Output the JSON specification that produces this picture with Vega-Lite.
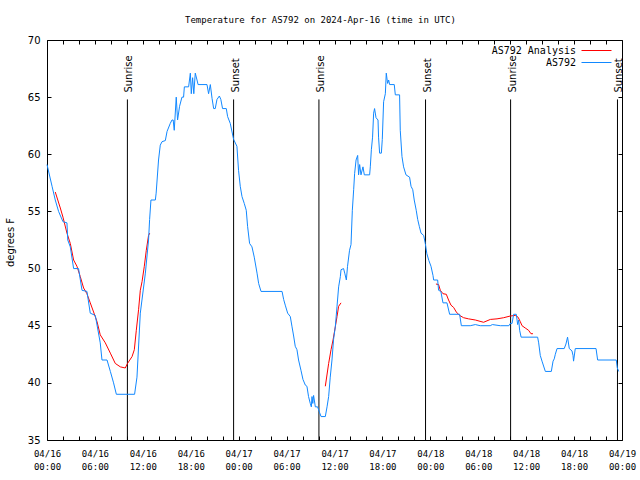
{
  "$schema": "https://vega.github.io/schema/vega-lite/v6.json",
  "width": 575,
  "height": 400,
  "autosize": "none",
  "padding": {"left": 47, "top": 40, "right": 18, "bottom": 40},
  "background": "white",
  "title": {"text": "Temperature for AS792 on 2024-Apr-16 (time in UTC)", "font": "DejaVu Sans Mono", "fontSize": 9, "fontWeight": "normal", "color": "black", "anchor": "middle", "offset": 10, "dx": -14},
  "config": {
    "view": {"stroke": "black", "strokeWidth": 1},
    "axis": {"domain": false, "grid": false, "tickColor": "black", "labelColor": "black", "tickSize": -4, "tickWidth": 1}
  },
  "datasets": {
    "sun": [
      {"time": "2024-04-16T10:04:00Z", "event": "Sunrise"},
      {"time": "2024-04-16T23:22:00Z", "event": "Sunset"},
      {"time": "2024-04-17T10:03:00Z", "event": "Sunrise"},
      {"time": "2024-04-17T23:24:00Z", "event": "Sunset"},
      {"time": "2024-04-18T10:03:00Z", "event": "Sunrise"},
      {"time": "2024-04-18T23:26:00Z", "event": "Sunset"}
    ],
    "obs": [
      {"time": "2024-04-16T01:02:00Z", "temp": 56.7, "series": "AS792 Analysis", "segment": 1},
      {"time": "2024-04-16T01:40:00Z", "temp": 55.3, "series": "AS792 Analysis", "segment": 1},
      {"time": "2024-04-16T02:00:00Z", "temp": 54.5, "series": "AS792 Analysis", "segment": 1},
      {"time": "2024-04-16T02:30:00Z", "temp": 53.1, "series": "AS792 Analysis", "segment": 1},
      {"time": "2024-04-16T02:55:00Z", "temp": 52.2, "series": "AS792 Analysis", "segment": 1},
      {"time": "2024-04-16T03:20:00Z", "temp": 50.75, "series": "AS792 Analysis", "segment": 1},
      {"time": "2024-04-16T03:45:00Z", "temp": 50.2, "series": "AS792 Analysis", "segment": 1},
      {"time": "2024-04-16T04:10:00Z", "temp": 49.3, "series": "AS792 Analysis", "segment": 1},
      {"time": "2024-04-16T04:35:00Z", "temp": 48.3, "series": "AS792 Analysis", "segment": 1},
      {"time": "2024-04-16T05:00:00Z", "temp": 47.8, "series": "AS792 Analysis", "segment": 1},
      {"time": "2024-04-16T05:25:00Z", "temp": 47.0, "series": "AS792 Analysis", "segment": 1},
      {"time": "2024-04-16T05:50:00Z", "temp": 46.2, "series": "AS792 Analysis", "segment": 1},
      {"time": "2024-04-16T06:16:00Z", "temp": 45.35, "series": "AS792 Analysis", "segment": 1},
      {"time": "2024-04-16T06:40:00Z", "temp": 44.2, "series": "AS792 Analysis", "segment": 1},
      {"time": "2024-04-16T07:18:00Z", "temp": 43.5, "series": "AS792 Analysis", "segment": 1},
      {"time": "2024-04-16T07:56:00Z", "temp": 42.6, "series": "AS792 Analysis", "segment": 1},
      {"time": "2024-04-16T08:33:00Z", "temp": 41.7, "series": "AS792 Analysis", "segment": 1},
      {"time": "2024-04-16T09:11:00Z", "temp": 41.4, "series": "AS792 Analysis", "segment": 1},
      {"time": "2024-04-16T09:48:00Z", "temp": 41.3, "series": "AS792 Analysis", "segment": 1},
      {"time": "2024-04-16T10:05:00Z", "temp": 41.7, "series": "AS792 Analysis", "segment": 1},
      {"time": "2024-04-16T10:39:00Z", "temp": 42.3, "series": "AS792 Analysis", "segment": 1},
      {"time": "2024-04-16T10:56:00Z", "temp": 42.9, "series": "AS792 Analysis", "segment": 1},
      {"time": "2024-04-16T11:11:00Z", "temp": 44.6, "series": "AS792 Analysis", "segment": 1},
      {"time": "2024-04-16T11:28:00Z", "temp": 46.4, "series": "AS792 Analysis", "segment": 1},
      {"time": "2024-04-16T11:41:00Z", "temp": 48.1, "series": "AS792 Analysis", "segment": 1},
      {"time": "2024-04-16T11:54:00Z", "temp": 48.85, "series": "AS792 Analysis", "segment": 1},
      {"time": "2024-04-16T12:11:00Z", "temp": 50.2, "series": "AS792 Analysis", "segment": 1},
      {"time": "2024-04-16T12:26:00Z", "temp": 51.6, "series": "AS792 Analysis", "segment": 1},
      {"time": "2024-04-16T12:43:00Z", "temp": 52.9, "series": "AS792 Analysis", "segment": 1},
      {"time": "2024-04-16T12:52:00Z", "temp": 53.1, "series": "AS792 Analysis", "segment": 1},
      {"time": "2024-04-17T10:51:00Z", "temp": 39.7, "series": "AS792 Analysis", "segment": 2},
      {"time": "2024-04-17T11:16:00Z", "temp": 41.7, "series": "AS792 Analysis", "segment": 2},
      {"time": "2024-04-17T11:34:00Z", "temp": 42.9, "series": "AS792 Analysis", "segment": 2},
      {"time": "2024-04-17T11:49:00Z", "temp": 43.75, "series": "AS792 Analysis", "segment": 2},
      {"time": "2024-04-17T12:06:00Z", "temp": 44.9, "series": "AS792 Analysis", "segment": 2},
      {"time": "2024-04-17T12:19:00Z", "temp": 45.8, "series": "AS792 Analysis", "segment": 2},
      {"time": "2024-04-17T12:31:00Z", "temp": 46.7, "series": "AS792 Analysis", "segment": 2},
      {"time": "2024-04-17T12:49:00Z", "temp": 47.0, "series": "AS792 Analysis", "segment": 2},
      {"time": "2024-04-18T00:42:00Z", "temp": 48.65, "series": "AS792 Analysis", "segment": 3},
      {"time": "2024-04-18T01:02:00Z", "temp": 48.6, "series": "AS792 Analysis", "segment": 3},
      {"time": "2024-04-18T01:15:00Z", "temp": 48.1, "series": "AS792 Analysis", "segment": 3},
      {"time": "2024-04-18T01:35:00Z", "temp": 47.8, "series": "AS792 Analysis", "segment": 3},
      {"time": "2024-04-18T02:00:00Z", "temp": 47.75, "series": "AS792 Analysis", "segment": 3},
      {"time": "2024-04-18T02:17:00Z", "temp": 47.25, "series": "AS792 Analysis", "segment": 3},
      {"time": "2024-04-18T02:35:00Z", "temp": 46.8, "series": "AS792 Analysis", "segment": 3},
      {"time": "2024-04-18T02:55:00Z", "temp": 46.6, "series": "AS792 Analysis", "segment": 3},
      {"time": "2024-04-18T03:15:00Z", "temp": 46.2, "series": "AS792 Analysis", "segment": 3},
      {"time": "2024-04-18T03:40:00Z", "temp": 45.9, "series": "AS792 Analysis", "segment": 3},
      {"time": "2024-04-18T04:10:00Z", "temp": 45.7, "series": "AS792 Analysis", "segment": 3},
      {"time": "2024-04-18T04:47:00Z", "temp": 45.6, "series": "AS792 Analysis", "segment": 3},
      {"time": "2024-04-18T05:38:00Z", "temp": 45.5, "series": "AS792 Analysis", "segment": 3},
      {"time": "2024-04-18T06:40:00Z", "temp": 45.3, "series": "AS792 Analysis", "segment": 3},
      {"time": "2024-04-18T07:31:00Z", "temp": 45.55, "series": "AS792 Analysis", "segment": 3},
      {"time": "2024-04-18T08:21:00Z", "temp": 45.6, "series": "AS792 Analysis", "segment": 3},
      {"time": "2024-04-18T09:11:00Z", "temp": 45.7, "series": "AS792 Analysis", "segment": 3},
      {"time": "2024-04-18T10:01:00Z", "temp": 45.85, "series": "AS792 Analysis", "segment": 3},
      {"time": "2024-04-18T10:38:00Z", "temp": 45.9, "series": "AS792 Analysis", "segment": 3},
      {"time": "2024-04-18T10:59:00Z", "temp": 45.75, "series": "AS792 Analysis", "segment": 3},
      {"time": "2024-04-18T11:16:00Z", "temp": 45.35, "series": "AS792 Analysis", "segment": 3},
      {"time": "2024-04-18T11:29:00Z", "temp": 45.0, "series": "AS792 Analysis", "segment": 3},
      {"time": "2024-04-18T11:53:00Z", "temp": 44.8, "series": "AS792 Analysis", "segment": 3},
      {"time": "2024-04-18T12:18:00Z", "temp": 44.6, "series": "AS792 Analysis", "segment": 3},
      {"time": "2024-04-18T12:36:00Z", "temp": 44.3, "series": "AS792 Analysis", "segment": 3},
      {"time": "2024-04-18T12:51:00Z", "temp": 44.3, "series": "AS792 Analysis", "segment": 3},
      {"time": "2024-04-16T00:00:00Z", "temp": 59.1, "series": "AS792", "segment": 0},
      {"time": "2024-04-16T00:38:00Z", "temp": 57.2, "series": "AS792", "segment": 0},
      {"time": "2024-04-16T01:02:00Z", "temp": 56.0, "series": "AS792", "segment": 0},
      {"time": "2024-04-16T01:27:00Z", "temp": 55.0, "series": "AS792", "segment": 0},
      {"time": "2024-04-16T02:00:00Z", "temp": 54.1, "series": "AS792", "segment": 0},
      {"time": "2024-04-16T02:30:00Z", "temp": 54.0, "series": "AS792", "segment": 0},
      {"time": "2024-04-16T02:36:00Z", "temp": 52.5, "series": "AS792", "segment": 0},
      {"time": "2024-04-16T02:55:00Z", "temp": 51.9, "series": "AS792", "segment": 0},
      {"time": "2024-04-16T03:20:00Z", "temp": 50.0, "series": "AS792", "segment": 0},
      {"time": "2024-04-16T03:57:00Z", "temp": 50.0, "series": "AS792", "segment": 0},
      {"time": "2024-04-16T04:23:00Z", "temp": 48.1, "series": "AS792", "segment": 0},
      {"time": "2024-04-16T05:00:00Z", "temp": 48.0, "series": "AS792", "segment": 0},
      {"time": "2024-04-16T05:25:00Z", "temp": 46.1, "series": "AS792", "segment": 0},
      {"time": "2024-04-16T06:03:00Z", "temp": 45.9, "series": "AS792", "segment": 0},
      {"time": "2024-04-16T06:40:00Z", "temp": 43.5, "series": "AS792", "segment": 0},
      {"time": "2024-04-16T06:53:00Z", "temp": 42.0, "series": "AS792", "segment": 0},
      {"time": "2024-04-16T07:31:00Z", "temp": 42.0, "series": "AS792", "segment": 0},
      {"time": "2024-04-16T07:56:00Z", "temp": 41.0, "series": "AS792", "segment": 0},
      {"time": "2024-04-16T08:20:00Z", "temp": 40.0, "series": "AS792", "segment": 0},
      {"time": "2024-04-16T08:41:00Z", "temp": 39.0, "series": "AS792", "segment": 0},
      {"time": "2024-04-16T10:58:00Z", "temp": 39.0, "series": "AS792", "segment": 0},
      {"time": "2024-04-16T11:16:00Z", "temp": 40.5, "series": "AS792", "segment": 0},
      {"time": "2024-04-16T11:41:00Z", "temp": 46.1, "series": "AS792", "segment": 0},
      {"time": "2024-04-16T12:19:00Z", "temp": 49.6, "series": "AS792", "segment": 0},
      {"time": "2024-04-16T12:43:00Z", "temp": 52.5, "series": "AS792", "segment": 0},
      {"time": "2024-04-16T12:51:00Z", "temp": 54.3, "series": "AS792", "segment": 0},
      {"time": "2024-04-16T13:01:00Z", "temp": 56.0, "series": "AS792", "segment": 0},
      {"time": "2024-04-16T13:34:00Z", "temp": 56.0, "series": "AS792", "segment": 0},
      {"time": "2024-04-16T13:40:00Z", "temp": 56.6, "series": "AS792", "segment": 0},
      {"time": "2024-04-16T13:58:00Z", "temp": 59.5, "series": "AS792", "segment": 0},
      {"time": "2024-04-16T14:11:00Z", "temp": 60.8, "series": "AS792", "segment": 0},
      {"time": "2024-04-16T14:24:00Z", "temp": 61.1, "series": "AS792", "segment": 0},
      {"time": "2024-04-16T14:49:00Z", "temp": 61.2, "series": "AS792", "segment": 0},
      {"time": "2024-04-16T15:02:00Z", "temp": 62.0, "series": "AS792", "segment": 0},
      {"time": "2024-04-16T15:26:00Z", "temp": 62.7, "series": "AS792", "segment": 0},
      {"time": "2024-04-16T15:39:00Z", "temp": 63.0, "series": "AS792", "segment": 0},
      {"time": "2024-04-16T15:48:00Z", "temp": 63.0, "series": "AS792", "segment": 0},
      {"time": "2024-04-16T15:56:00Z", "temp": 62.1, "series": "AS792", "segment": 0},
      {"time": "2024-04-16T16:11:00Z", "temp": 65.0, "series": "AS792", "segment": 0},
      {"time": "2024-04-16T16:21:00Z", "temp": 63.0, "series": "AS792", "segment": 0},
      {"time": "2024-04-16T16:36:00Z", "temp": 64.2, "series": "AS792", "segment": 0},
      {"time": "2024-04-16T16:54:00Z", "temp": 65.0, "series": "AS792", "segment": 0},
      {"time": "2024-04-16T17:06:00Z", "temp": 65.0, "series": "AS792", "segment": 0},
      {"time": "2024-04-16T17:12:00Z", "temp": 65.9, "series": "AS792", "segment": 0},
      {"time": "2024-04-16T17:44:00Z", "temp": 65.9, "series": "AS792", "segment": 0},
      {"time": "2024-04-16T17:57:00Z", "temp": 67.1, "series": "AS792", "segment": 0},
      {"time": "2024-04-16T18:04:00Z", "temp": 65.3, "series": "AS792", "segment": 0},
      {"time": "2024-04-16T18:14:00Z", "temp": 66.7, "series": "AS792", "segment": 0},
      {"time": "2024-04-16T18:23:00Z", "temp": 65.3, "series": "AS792", "segment": 0},
      {"time": "2024-04-16T18:34:00Z", "temp": 67.1, "series": "AS792", "segment": 0},
      {"time": "2024-04-16T18:47:00Z", "temp": 66.5, "series": "AS792", "segment": 0},
      {"time": "2024-04-16T18:55:00Z", "temp": 66.1, "series": "AS792", "segment": 0},
      {"time": "2024-04-16T20:02:00Z", "temp": 66.1, "series": "AS792", "segment": 0},
      {"time": "2024-04-16T20:14:00Z", "temp": 65.3, "series": "AS792", "segment": 0},
      {"time": "2024-04-16T20:27:00Z", "temp": 66.1, "series": "AS792", "segment": 0},
      {"time": "2024-04-16T20:40:00Z", "temp": 64.9, "series": "AS792", "segment": 0},
      {"time": "2024-04-16T20:52:00Z", "temp": 64.0, "series": "AS792", "segment": 0},
      {"time": "2024-04-16T21:04:00Z", "temp": 64.0, "series": "AS792", "segment": 0},
      {"time": "2024-04-16T21:17:00Z", "temp": 64.8, "series": "AS792", "segment": 0},
      {"time": "2024-04-16T21:35:00Z", "temp": 65.1, "series": "AS792", "segment": 0},
      {"time": "2024-04-16T21:46:00Z", "temp": 64.8, "series": "AS792", "segment": 0},
      {"time": "2024-04-16T21:59:00Z", "temp": 64.0, "series": "AS792", "segment": 0},
      {"time": "2024-04-16T22:27:00Z", "temp": 64.0, "series": "AS792", "segment": 0},
      {"time": "2024-04-16T22:37:00Z", "temp": 63.3, "series": "AS792", "segment": 0},
      {"time": "2024-04-16T22:57:00Z", "temp": 62.7, "series": "AS792", "segment": 0},
      {"time": "2024-04-16T23:22:00Z", "temp": 61.3, "series": "AS792", "segment": 0},
      {"time": "2024-04-16T23:47:00Z", "temp": 60.7, "series": "AS792", "segment": 0},
      {"time": "2024-04-16T23:59:00Z", "temp": 58.6, "series": "AS792", "segment": 0},
      {"time": "2024-04-17T00:12:00Z", "temp": 57.2, "series": "AS792", "segment": 0},
      {"time": "2024-04-17T00:25:00Z", "temp": 56.3, "series": "AS792", "segment": 0},
      {"time": "2024-04-17T00:42:00Z", "temp": 55.7, "series": "AS792", "segment": 0},
      {"time": "2024-04-17T00:57:00Z", "temp": 55.1, "series": "AS792", "segment": 0},
      {"time": "2024-04-17T01:07:00Z", "temp": 53.7, "series": "AS792", "segment": 0},
      {"time": "2024-04-17T01:22:00Z", "temp": 52.2, "series": "AS792", "segment": 0},
      {"time": "2024-04-17T01:40:00Z", "temp": 51.9, "series": "AS792", "segment": 0},
      {"time": "2024-04-17T01:57:00Z", "temp": 51.0, "series": "AS792", "segment": 0},
      {"time": "2024-04-17T02:18:00Z", "temp": 49.6, "series": "AS792", "segment": 0},
      {"time": "2024-04-17T02:30:00Z", "temp": 48.7, "series": "AS792", "segment": 0},
      {"time": "2024-04-17T02:48:00Z", "temp": 48.0, "series": "AS792", "segment": 0},
      {"time": "2024-04-17T05:26:00Z", "temp": 48.0, "series": "AS792", "segment": 0},
      {"time": "2024-04-17T05:38:00Z", "temp": 47.3, "series": "AS792", "segment": 0},
      {"time": "2024-04-17T05:50:00Z", "temp": 46.8, "series": "AS792", "segment": 0},
      {"time": "2024-04-17T06:08:00Z", "temp": 46.1, "series": "AS792", "segment": 0},
      {"time": "2024-04-17T06:28:00Z", "temp": 45.8, "series": "AS792", "segment": 0},
      {"time": "2024-04-17T06:41:00Z", "temp": 44.9, "series": "AS792", "segment": 0},
      {"time": "2024-04-17T06:53:00Z", "temp": 44.1, "series": "AS792", "segment": 0},
      {"time": "2024-04-17T07:05:00Z", "temp": 43.2, "series": "AS792", "segment": 0},
      {"time": "2024-04-17T07:18:00Z", "temp": 42.9, "series": "AS792", "segment": 0},
      {"time": "2024-04-17T07:30:00Z", "temp": 42.0, "series": "AS792", "segment": 0},
      {"time": "2024-04-17T07:48:00Z", "temp": 41.1, "series": "AS792", "segment": 0},
      {"time": "2024-04-17T08:03:00Z", "temp": 40.3, "series": "AS792", "segment": 0},
      {"time": "2024-04-17T08:21:00Z", "temp": 39.8, "series": "AS792", "segment": 0},
      {"time": "2024-04-17T08:33:00Z", "temp": 39.7, "series": "AS792", "segment": 0},
      {"time": "2024-04-17T08:45:00Z", "temp": 38.8, "series": "AS792", "segment": 0},
      {"time": "2024-04-17T08:58:00Z", "temp": 38.2, "series": "AS792", "segment": 0},
      {"time": "2024-04-17T09:06:00Z", "temp": 37.9, "series": "AS792", "segment": 0},
      {"time": "2024-04-17T09:11:00Z", "temp": 38.8, "series": "AS792", "segment": 0},
      {"time": "2024-04-17T09:17:00Z", "temp": 38.2, "series": "AS792", "segment": 0},
      {"time": "2024-04-17T09:23:00Z", "temp": 38.9, "series": "AS792", "segment": 0},
      {"time": "2024-04-17T09:36:00Z", "temp": 37.9, "series": "AS792", "segment": 0},
      {"time": "2024-04-17T09:53:00Z", "temp": 37.9, "series": "AS792", "segment": 0},
      {"time": "2024-04-17T10:08:00Z", "temp": 37.4, "series": "AS792", "segment": 0},
      {"time": "2024-04-17T10:19:00Z", "temp": 37.05, "series": "AS792", "segment": 0},
      {"time": "2024-04-17T10:51:00Z", "temp": 37.05, "series": "AS792", "segment": 0},
      {"time": "2024-04-17T11:04:00Z", "temp": 37.9, "series": "AS792", "segment": 0},
      {"time": "2024-04-17T11:16:00Z", "temp": 38.8, "series": "AS792", "segment": 0},
      {"time": "2024-04-17T11:28:00Z", "temp": 40.5, "series": "AS792", "segment": 0},
      {"time": "2024-04-17T11:41:00Z", "temp": 42.0, "series": "AS792", "segment": 0},
      {"time": "2024-04-17T11:53:00Z", "temp": 43.8, "series": "AS792", "segment": 0},
      {"time": "2024-04-17T12:06:00Z", "temp": 44.9, "series": "AS792", "segment": 0},
      {"time": "2024-04-17T12:19:00Z", "temp": 46.7, "series": "AS792", "segment": 0},
      {"time": "2024-04-17T12:31:00Z", "temp": 48.4, "series": "AS792", "segment": 0},
      {"time": "2024-04-17T12:44:00Z", "temp": 49.3, "series": "AS792", "segment": 0},
      {"time": "2024-04-17T12:49:00Z", "temp": 49.9, "series": "AS792", "segment": 0},
      {"time": "2024-04-17T13:08:00Z", "temp": 50.0, "series": "AS792", "segment": 0},
      {"time": "2024-04-17T13:17:00Z", "temp": 49.6, "series": "AS792", "segment": 0},
      {"time": "2024-04-17T13:29:00Z", "temp": 49.0, "series": "AS792", "segment": 0},
      {"time": "2024-04-17T13:38:00Z", "temp": 50.2, "series": "AS792", "segment": 0},
      {"time": "2024-04-17T13:53:00Z", "temp": 51.6, "series": "AS792", "segment": 0},
      {"time": "2024-04-17T14:04:00Z", "temp": 52.1, "series": "AS792", "segment": 0},
      {"time": "2024-04-17T14:14:00Z", "temp": 55.1, "series": "AS792", "segment": 0},
      {"time": "2024-04-17T14:24:00Z", "temp": 56.9, "series": "AS792", "segment": 0},
      {"time": "2024-04-17T14:31:00Z", "temp": 58.3, "series": "AS792", "segment": 0},
      {"time": "2024-04-17T14:42:00Z", "temp": 59.5, "series": "AS792", "segment": 0},
      {"time": "2024-04-17T14:54:00Z", "temp": 59.9, "series": "AS792", "segment": 0},
      {"time": "2024-04-17T15:01:00Z", "temp": 58.2, "series": "AS792", "segment": 0},
      {"time": "2024-04-17T15:09:00Z", "temp": 59.1, "series": "AS792", "segment": 0},
      {"time": "2024-04-17T15:19:00Z", "temp": 58.2, "series": "AS792", "segment": 0},
      {"time": "2024-04-17T15:34:00Z", "temp": 58.9, "series": "AS792", "segment": 0},
      {"time": "2024-04-17T15:44:00Z", "temp": 58.2, "series": "AS792", "segment": 0},
      {"time": "2024-04-17T16:24:00Z", "temp": 58.2, "series": "AS792", "segment": 0},
      {"time": "2024-04-17T16:29:00Z", "temp": 58.9, "series": "AS792", "segment": 0},
      {"time": "2024-04-17T16:37:00Z", "temp": 60.4, "series": "AS792", "segment": 0},
      {"time": "2024-04-17T16:46:00Z", "temp": 61.5, "series": "AS792", "segment": 0},
      {"time": "2024-04-17T16:54:00Z", "temp": 63.6, "series": "AS792", "segment": 0},
      {"time": "2024-04-17T17:01:00Z", "temp": 64.0, "series": "AS792", "segment": 0},
      {"time": "2024-04-17T17:12:00Z", "temp": 63.2, "series": "AS792", "segment": 0},
      {"time": "2024-04-17T17:27:00Z", "temp": 63.0, "series": "AS792", "segment": 0},
      {"time": "2024-04-17T17:31:00Z", "temp": 61.5, "series": "AS792", "segment": 0},
      {"time": "2024-04-17T17:39:00Z", "temp": 60.1, "series": "AS792", "segment": 0},
      {"time": "2024-04-17T17:52:00Z", "temp": 60.1, "series": "AS792", "segment": 0},
      {"time": "2024-04-17T17:59:00Z", "temp": 61.3, "series": "AS792", "segment": 0},
      {"time": "2024-04-17T18:09:00Z", "temp": 64.6, "series": "AS792", "segment": 0},
      {"time": "2024-04-17T18:22:00Z", "temp": 65.3, "series": "AS792", "segment": 0},
      {"time": "2024-04-17T18:29:00Z", "temp": 67.1, "series": "AS792", "segment": 0},
      {"time": "2024-04-17T18:39:00Z", "temp": 66.2, "series": "AS792", "segment": 0},
      {"time": "2024-04-17T18:47:00Z", "temp": 66.5, "series": "AS792", "segment": 0},
      {"time": "2024-04-17T18:54:00Z", "temp": 66.1, "series": "AS792", "segment": 0},
      {"time": "2024-04-17T19:29:00Z", "temp": 66.1, "series": "AS792", "segment": 0},
      {"time": "2024-04-17T19:37:00Z", "temp": 65.2, "series": "AS792", "segment": 0},
      {"time": "2024-04-17T20:09:00Z", "temp": 65.2, "series": "AS792", "segment": 0},
      {"time": "2024-04-17T20:14:00Z", "temp": 62.1, "series": "AS792", "segment": 0},
      {"time": "2024-04-17T20:27:00Z", "temp": 59.8, "series": "AS792", "segment": 0},
      {"time": "2024-04-17T20:39:00Z", "temp": 58.9, "series": "AS792", "segment": 0},
      {"time": "2024-04-17T20:57:00Z", "temp": 58.2, "series": "AS792", "segment": 0},
      {"time": "2024-04-17T21:24:00Z", "temp": 58.0, "series": "AS792", "segment": 0},
      {"time": "2024-04-17T21:35:00Z", "temp": 57.2, "series": "AS792", "segment": 0},
      {"time": "2024-04-17T21:48:00Z", "temp": 56.9, "series": "AS792", "segment": 0},
      {"time": "2024-04-17T21:59:00Z", "temp": 56.0, "series": "AS792", "segment": 0},
      {"time": "2024-04-17T22:14:00Z", "temp": 55.1, "series": "AS792", "segment": 0},
      {"time": "2024-04-17T22:25:00Z", "temp": 54.3, "series": "AS792", "segment": 0},
      {"time": "2024-04-17T22:37:00Z", "temp": 53.7, "series": "AS792", "segment": 0},
      {"time": "2024-04-17T22:50:00Z", "temp": 53.1, "series": "AS792", "segment": 0},
      {"time": "2024-04-17T23:10:00Z", "temp": 52.9, "series": "AS792", "segment": 0},
      {"time": "2024-04-17T23:22:00Z", "temp": 52.2, "series": "AS792", "segment": 0},
      {"time": "2024-04-17T23:34:00Z", "temp": 51.3, "series": "AS792", "segment": 0},
      {"time": "2024-04-17T23:49:00Z", "temp": 50.7, "series": "AS792", "segment": 0},
      {"time": "2024-04-18T00:05:00Z", "temp": 50.2, "series": "AS792", "segment": 0},
      {"time": "2024-04-18T00:20:00Z", "temp": 49.4, "series": "AS792", "segment": 0},
      {"time": "2024-04-18T00:25:00Z", "temp": 49.0, "series": "AS792", "segment": 0},
      {"time": "2024-04-18T00:55:00Z", "temp": 49.0, "series": "AS792", "segment": 0},
      {"time": "2024-04-18T01:02:00Z", "temp": 48.1, "series": "AS792", "segment": 0},
      {"time": "2024-04-18T01:19:00Z", "temp": 48.0, "series": "AS792", "segment": 0},
      {"time": "2024-04-18T01:35:00Z", "temp": 47.0, "series": "AS792", "segment": 0},
      {"time": "2024-04-18T02:05:00Z", "temp": 47.0, "series": "AS792", "segment": 0},
      {"time": "2024-04-18T02:25:00Z", "temp": 46.0, "series": "AS792", "segment": 0},
      {"time": "2024-04-18T03:40:00Z", "temp": 46.0, "series": "AS792", "segment": 0},
      {"time": "2024-04-18T03:53:00Z", "temp": 45.0, "series": "AS792", "segment": 0},
      {"time": "2024-04-18T05:00:00Z", "temp": 45.0, "series": "AS792", "segment": 0},
      {"time": "2024-04-18T05:38:00Z", "temp": 45.1, "series": "AS792", "segment": 0},
      {"time": "2024-04-18T06:15:00Z", "temp": 45.0, "series": "AS792", "segment": 0},
      {"time": "2024-04-18T07:30:00Z", "temp": 45.0, "series": "AS792", "segment": 0},
      {"time": "2024-04-18T07:46:00Z", "temp": 45.1, "series": "AS792", "segment": 0},
      {"time": "2024-04-18T08:46:00Z", "temp": 45.0, "series": "AS792", "segment": 0},
      {"time": "2024-04-18T09:50:00Z", "temp": 45.0, "series": "AS792", "segment": 0},
      {"time": "2024-04-18T10:01:00Z", "temp": 45.2, "series": "AS792", "segment": 0},
      {"time": "2024-04-18T10:14:00Z", "temp": 45.2, "series": "AS792", "segment": 0},
      {"time": "2024-04-18T10:26:00Z", "temp": 46.0, "series": "AS792", "segment": 0},
      {"time": "2024-04-18T10:46:00Z", "temp": 46.0, "series": "AS792", "segment": 0},
      {"time": "2024-04-18T10:56:00Z", "temp": 45.1, "series": "AS792", "segment": 0},
      {"time": "2024-04-18T11:04:00Z", "temp": 45.5, "series": "AS792", "segment": 0},
      {"time": "2024-04-18T11:11:00Z", "temp": 44.6, "series": "AS792", "segment": 0},
      {"time": "2024-04-18T11:22:00Z", "temp": 44.0, "series": "AS792", "segment": 0},
      {"time": "2024-04-18T13:26:00Z", "temp": 44.0, "series": "AS792", "segment": 0},
      {"time": "2024-04-18T13:34:00Z", "temp": 43.5, "series": "AS792", "segment": 0},
      {"time": "2024-04-18T13:46:00Z", "temp": 42.4, "series": "AS792", "segment": 0},
      {"time": "2024-04-18T13:59:00Z", "temp": 41.9, "series": "AS792", "segment": 0},
      {"time": "2024-04-18T14:24:00Z", "temp": 41.0, "series": "AS792", "segment": 0},
      {"time": "2024-04-18T15:09:00Z", "temp": 41.0, "series": "AS792", "segment": 0},
      {"time": "2024-04-18T15:22:00Z", "temp": 41.9, "series": "AS792", "segment": 0},
      {"time": "2024-04-18T15:31:00Z", "temp": 42.1, "series": "AS792", "segment": 0},
      {"time": "2024-04-18T15:39:00Z", "temp": 42.5, "series": "AS792", "segment": 0},
      {"time": "2024-04-18T15:52:00Z", "temp": 43.0, "series": "AS792", "segment": 0},
      {"time": "2024-04-18T16:46:00Z", "temp": 43.0, "series": "AS792", "segment": 0},
      {"time": "2024-04-18T16:59:00Z", "temp": 43.4, "series": "AS792", "segment": 0},
      {"time": "2024-04-18T17:11:00Z", "temp": 44.0, "series": "AS792", "segment": 0},
      {"time": "2024-04-18T17:24:00Z", "temp": 43.0, "series": "AS792", "segment": 0},
      {"time": "2024-04-18T17:44:00Z", "temp": 42.8, "series": "AS792", "segment": 0},
      {"time": "2024-04-18T17:52:00Z", "temp": 42.4, "series": "AS792", "segment": 0},
      {"time": "2024-04-18T17:56:00Z", "temp": 41.9, "series": "AS792", "segment": 0},
      {"time": "2024-04-18T18:09:00Z", "temp": 43.0, "series": "AS792", "segment": 0},
      {"time": "2024-04-18T20:45:00Z", "temp": 43.0, "series": "AS792", "segment": 0},
      {"time": "2024-04-18T20:57:00Z", "temp": 42.0, "series": "AS792", "segment": 0},
      {"time": "2024-04-18T23:17:00Z", "temp": 42.0, "series": "AS792", "segment": 0},
      {"time": "2024-04-18T23:25:00Z", "temp": 41.3, "series": "AS792", "segment": 0},
      {"time": "2024-04-18T23:35:00Z", "temp": 41.0, "series": "AS792", "segment": 0}
    ]
  },
  "resolve": {"axis": {"x": "independent", "y": "independent"}},
  "layer": [
    {
      "data": {"name": "sun"},
      "mark": {"type": "rule", "color": "black", "strokeWidth": 1},
      "encoding": {
        "x": {"field": "time", "type": "temporal",
              "scale": {"type": "utc", "domain": [1713225600000, 1713484800000]},
              "axis": {"orient": "top", "labels": false, "title": null,
                       "values": [1713225600000, 1713232800000, 1713240000000, 1713247200000, 1713254400000, 1713261600000, 1713268800000, 1713276000000, 1713283200000, 1713290400000, 1713297600000, 1713304800000, 1713312000000, 1713319200000, 1713326400000, 1713333600000, 1713340800000, 1713348000000, 1713355200000, 1713362400000, 1713369600000, 1713376800000, 1713384000000, 1713391200000, 1713398400000, 1713405600000, 1713412800000, 1713420000000, 1713427200000, 1713434400000, 1713441600000, 1713448800000, 1713456000000, 1713463200000, 1713470400000, 1713477600000, 1713484800000]}},
        "y": {"datum": 35, "type": "quantitative", "scale": {"domain": [35, 70]},
              "axis": {"orient": "right", "labels": false, "title": null, "values": [35, 40, 45, 50, 55, 60, 65, 70]}},
        "y2": {"datum": 64.8}
      }
    },
    {
      "data": {"name": "obs"},
      "mark": {"type": "line", "strokeWidth": 1, "interpolate": "linear"},
      "encoding": {
        "x": {"field": "time", "type": "temporal",
              "scale": {"type": "utc", "domain": [1713225600000, 1713484800000]},
              "axis": {"orient": "bottom", "title": null,
                       "values": [1713225600000, 1713232800000, 1713240000000, 1713247200000, 1713254400000, 1713261600000, 1713268800000, 1713276000000, 1713283200000, 1713290400000, 1713297600000, 1713304800000, 1713312000000, 1713319200000, 1713326400000, 1713333600000, 1713340800000, 1713348000000, 1713355200000, 1713362400000, 1713369600000, 1713376800000, 1713384000000, 1713391200000, 1713398400000, 1713405600000, 1713412800000, 1713420000000, 1713427200000, 1713434400000, 1713441600000, 1713448800000, 1713456000000, 1713463200000, 1713470400000, 1713477600000, 1713484800000],
                       "labelExpr": "utchours(datum.value) % 6 == 0 ? [utcFormat(datum.value, '%m/%d'), utcFormat(datum.value, '%H:%M')] : ''",
                       "labelFont": "DejaVu Sans Mono", "labelFontSize": 9, "labelLineHeight": 13, "labelPadding": 13,
                       "labelOverlap": false, "labelFlush": false, "labelBaseline": "top"}},
        "y": {"field": "temp", "type": "quantitative", "scale": {"domain": [35, 70]},
              "axis": {"orient": "left", "values": [35, 40, 45, 50, 55, 60, 65, 70], "labelFont": "DejaVu Sans", "labelFontSize": 10, "labelPadding": 11,
                       "title": "degrees F", "titleFont": "DejaVu Sans", "titleFontSize": 10, "titleFontWeight": "normal", "titleColor": "black", "titleX": -32, "titleY": 202}},
        "color": {"field": "series", "type": "nominal",
                  "scale": {"domain": ["AS792 Analysis", "AS792"], "range": ["#ff0000", "#1188ff"]},
                  "legend": {"orient": "none", "legendX": 544, "legendY": 5, "title": null, "symbolType": "M-3,0H3", "symbolSize": 100, "symbolStrokeWidth": 1,
                             "labelFont": "DejaVu Sans Mono", "labelFontSize": 10, "labelColor": "black", "labelAlign": "right", "labelOffset": -26,
                             "rowPadding": 1, "padding": 0}},
        "detail": {"field": "segment", "type": "nominal"}
      }
    },
    {
      "data": {"name": "sun"},
      "mark": {"type": "text", "angle": 270, "align": "left", "baseline": "alphabetic", "dy": 5, "font": "DejaVu Sans", "fontSize": 10, "color": "black"},
      "encoding": {
        "x": {"field": "time", "type": "temporal", "axis": null},
        "y": {"datum": 65.4, "type": "quantitative", "axis": null},
        "text": {"field": "event"}
      }
    }
  ]
}
